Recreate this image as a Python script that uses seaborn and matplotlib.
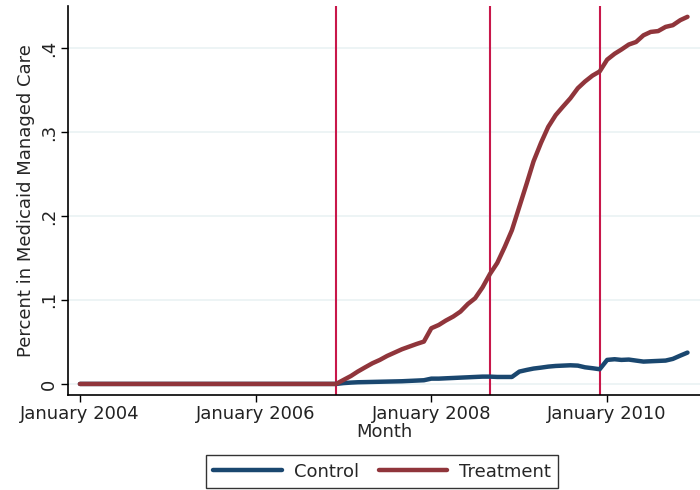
import numpy as np
import pandas as pd
import matplotlib
matplotlib.use("Agg")
import matplotlib.pyplot as plt
import matplotlib.dates as mdates
import seaborn as sns

# ---- data ----
months = pd.date_range("2004-01-01", periods=84, freq="MS")
control_pre = [0.0] * 35
control_post = [0.0, 0.001, 0.0016, 0.002, 0.0022, 0.0024, 0.0026, 0.0028, 0.003, 0.0032,
                0.0036, 0.004, 0.0044, 0.0063, 0.0063, 0.0067, 0.0071, 0.0075, 0.0079, 0.0083,
                0.0087, 0.0087, 0.0083, 0.0083, 0.0083, 0.0147, 0.0167, 0.0183, 0.0194, 0.0206,
                0.0214, 0.0218, 0.0222, 0.0218, 0.0198, 0.0187, 0.0175, 0.0286, 0.0294, 0.0286,
                0.029, 0.0278, 0.0266, 0.027, 0.0274, 0.0278, 0.0298, 0.0337, 0.0373]
treatment_pre = [0.0] * 35
treatment_post = [0.0, 0.0048, 0.0095, 0.0147, 0.0198, 0.0246, 0.0286, 0.0333, 0.0373, 0.0413,
                  0.0444, 0.0476, 0.0504, 0.0663, 0.0702, 0.0754, 0.0802, 0.0861, 0.0952, 0.102,
                  0.115, 0.131, 0.144, 0.163, 0.183, 0.211, 0.239, 0.265, 0.287, 0.306,
                  0.320, 0.330, 0.340, 0.352, 0.360, 0.367, 0.372, 0.386, 0.393, 0.398,
                  0.404, 0.407, 0.415, 0.419, 0.420, 0.425, 0.427, 0.433, 0.437]
control = control_pre + control_post
treatment = treatment_pre + treatment_post
event_dates = ["2006-12-01", "2008-09-01", "2009-12-01"]
x_ticks = ["2004-01-01", "2006-01-01", "2008-01-01", "2010-01-01"]
y_ticks = [0, 0.1, 0.2, 0.3, 0.4]
y_tick_labels = ["0", ".1", ".2", ".3", ".4"]

df = pd.DataFrame({
    "Month": list(months) * 2,
    "value": control + treatment,
    "group": ["Control"] * len(months) + ["Treatment"] * len(months),
})

sns.set_style("white")
plt.rcParams["font.family"] = ["DejaVu Sans"]
FS = 13

fig = plt.figure(figsize=(7, 4.9), dpi=100)
ax = fig.add_axes([0.097, 0.194, 0.903, 0.794])

for d in event_dates:
    ax.axvline(pd.Timestamp(d), color="#c8174a", lw=1.5, zorder=1)

sns.lineplot(data=df, x="Month", y="value", hue="group",
             palette={"Control": "#1a476f", "Treatment": "#90353b"},
             linewidth=3.2, ax=ax, zorder=3)

ax.set_xlim(pd.Timestamp("2003-11-12"), pd.Timestamp("2011-01-22"))
ax.set_ylim(-0.0131, 0.45)
ax.set_xticks([pd.Timestamp(t) for t in x_ticks])
ax.xaxis.set_major_formatter(mdates.DateFormatter("January %Y"))
ax.set_yticks(y_ticks)
ax.set_yticklabels(y_tick_labels, rotation=90, va="center")
ax.yaxis.grid(True, color="#eaf2f3", lw=1.2)
ax.xaxis.grid(False)
ax.set_axisbelow(True)

for s in ["top", "right"]:
    ax.spines[s].set_visible(False)
for s in ["left", "bottom"]:
    ax.spines[s].set_color("black")
    ax.spines[s].set_linewidth(1.2)
ax.tick_params(axis="both", which="major", direction="out", length=5, width=1,
               color="black", labelsize=FS, labelcolor="#222222", bottom=True, left=True,
               pad=2)

ax.set_xlabel("Month", fontsize=FS, labelpad=0.5)
ax.set_ylabel("Percent in Medicaid Managed Care", fontsize=FS, labelpad=4)

h, l = ax.get_legend_handles_labels()
leg = ax.legend(h, l, loc="center", bbox_to_anchor=(0.497, -0.197), ncol=2,
                frameon=True, fontsize=FS, handlelength=3.8, handletextpad=0.65,
                columnspacing=1.1, fancybox=False, edgecolor="black", borderpad=0.4,
                borderaxespad=0)
leg.get_frame().set_linewidth(1.0)
for line in leg.get_lines():
    line.set_linewidth(3.2)

fig.savefig("out.png", dpi=100)
